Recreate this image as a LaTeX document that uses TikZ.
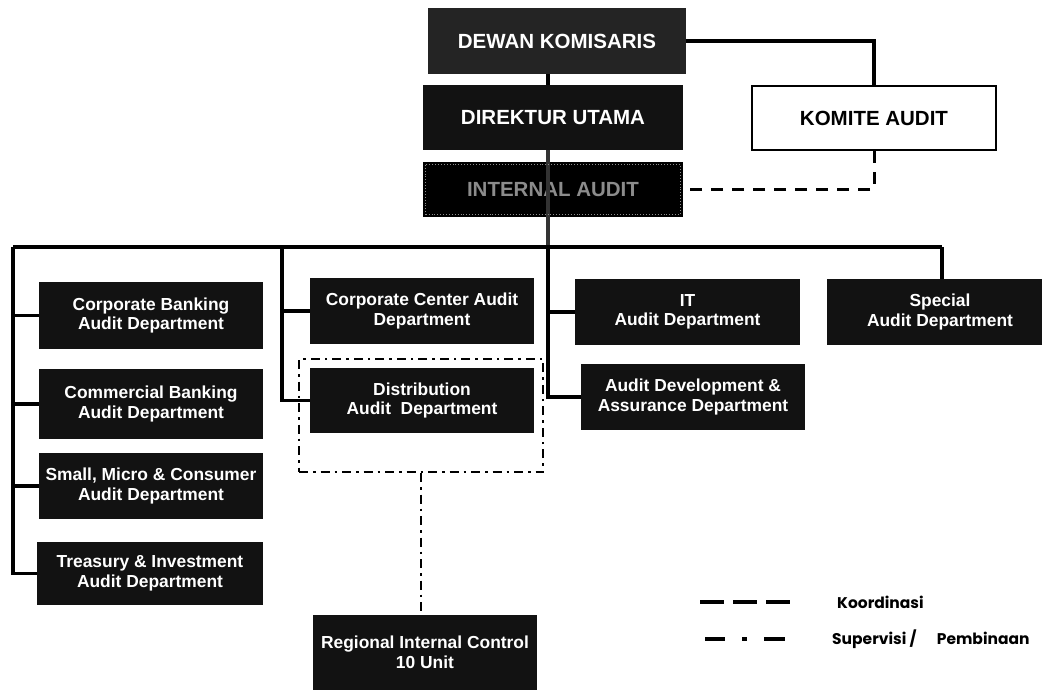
\documentclass[tikz,border=0pt]{standalone}
\usepackage{fontspec}
\setmainfont{Liberation Sans}
\newfontfamily\legfont{Poppins}
\begin{document}
\begin{tikzpicture}[x=1pt,y=-1pt,
  conn/.style={line width=3.1pt},
  koord/.style={line width=3pt, dash pattern=on 12pt off 9pt},
  superv/.style={line width=2.4pt, dash pattern=on 9pt off 5pt on 2.5pt off 5pt},
  dbox/.style={fill=black!93, text=white, align=center, inner sep=0pt,
    font=\fontsize{17.4}{19.5}\selectfont\bfseries},
  tbox/.style={fill=black!93, text=white, align=center, inner sep=0pt,
    font=\fontsize{20.5}{23}\selectfont\bfseries},
  legtext/.style={anchor=west, inner sep=0pt, font=\legfont\bfseries\fontsize{15.5}{18}\selectfont}
]
\useasboundingbox (0,0) rectangle (1042,699);
\fill[white] (0,0) rectangle (1042,699);

% bus coordinates
\coordinate (busL) at (13,247);
\coordinate (busR) at (942,247);
\coordinate (busC) at (282,247);
\coordinate (busM) at (548,247);

% nodes
\node[tbox, fill=black!86, minimum width=258pt, minimum height=66pt] (dewan) at (557,41) {DEWAN KOMISARIS};
\node[tbox, minimum width=260pt, minimum height=65pt] (direk) at (553,117.5) {DIREKTUR UTAMA};
\node[tbox, fill=white, text=black, draw=black, line width=2.6pt, minimum width=244pt, minimum height=64pt] (komite) at (874,118) {KOMITE AUDIT};
\node[tbox, fill=black, text=black!45, minimum width=260pt, minimum height=55pt] (internal) at (553,189.5) {INTERNAL AUDIT};

\node[dbox, minimum width=224pt, minimum height=67pt] (cb) at (151,315.5) {Corporate Banking\\Audit Department};
\node[dbox, minimum width=224pt, minimum height=70pt] (comb) at (151,404) {Commercial Banking\\Audit Department};
\node[dbox, minimum width=224pt, minimum height=66pt] (smc) at (151,486) {Small, Micro \& Consumer\\Audit Department};
\node[dbox, minimum width=226pt, minimum height=63pt] (tre) at (150,573.5) {Treasury \& Investment\\Audit Department};

\node[dbox, minimum width=224pt, minimum height=66pt] (ccad) at (422,311) {Corporate Center Audit\\Department};
\node[dbox, minimum width=224pt, minimum height=65pt] (dist) at (422,400.5) {Distribution\\Audit\ \ Department};
\node[dbox, minimum width=225pt, minimum height=66pt] (it) at (687.5,312) {IT\\Audit Department};
\node[dbox, minimum width=224pt, minimum height=66pt] (adev) at (693,397) {Audit Development \&\\Assurance Department};
\node[dbox, minimum width=226pt, minimum height=66pt] (spec) at (940,312) {Special\\Audit Department};
\node[dbox, minimum width=224pt, minimum height=75pt] (reg) at (425,652.5) {Regional Internal Control\\10 Unit};

\node[draw=black, superv, minimum width=244pt, minimum height=113pt, inner sep=0pt] (distgrp) at (421,415.5) {};

% connectors
\draw[conn] (dewan.east) -| (komite.north);
\draw[conn] (dewan.south -| busM) -- (direk.north -| busM);
\draw[conn, black!80] (direk.south -| busM) -- (busM);
\draw[conn] (busL) -- (busR);
\draw[conn] (busR) -- (spec.north -| busR);
\draw[conn] (busL) |- (cb.west);
\draw[conn] (busL) |- (comb.west);
\draw[conn] (busL) |- (smc.west);
\draw[conn] (busL) |- (tre.west);
\draw[conn] (busC) |- (ccad.west);
\draw[conn] (busC) |- (dist.west);
\draw[conn] (busM) |- (it.west);
\draw[conn] (busM) |- (adev.west);
\draw[koord] (komite.south) |- (internal.east);
\draw[superv, line width=2.6pt] (distgrp.south) -- (distgrp.south |- reg.north);

% internal audit dotted border
\draw[black!45, line width=0.9pt, dotted] ([xshift=3pt,yshift=-3pt]internal.north west) rectangle ([xshift=-3pt,yshift=3pt]internal.south east);

% legend
\coordinate (k1) at (700,602);
\coordinate (k2) at (790,602);
\coordinate (s1) at (705,639);
\coordinate (s2) at (785,639);
\draw[line width=4pt, dash pattern=on 24pt off 9pt] (k1) -- (k2);
\draw[line width=4pt, dash pattern=on 20pt off 17pt on 5pt off 17pt on 22pt off 40pt] (s1) -- (s2);
\node[legtext] (lk) at (837,602) {Koordinasi};
\node[legtext] (ls) at (832,639) {Supervisi /\hspace{1.3em}Pembinaan};
\end{tikzpicture}
\end{document}
